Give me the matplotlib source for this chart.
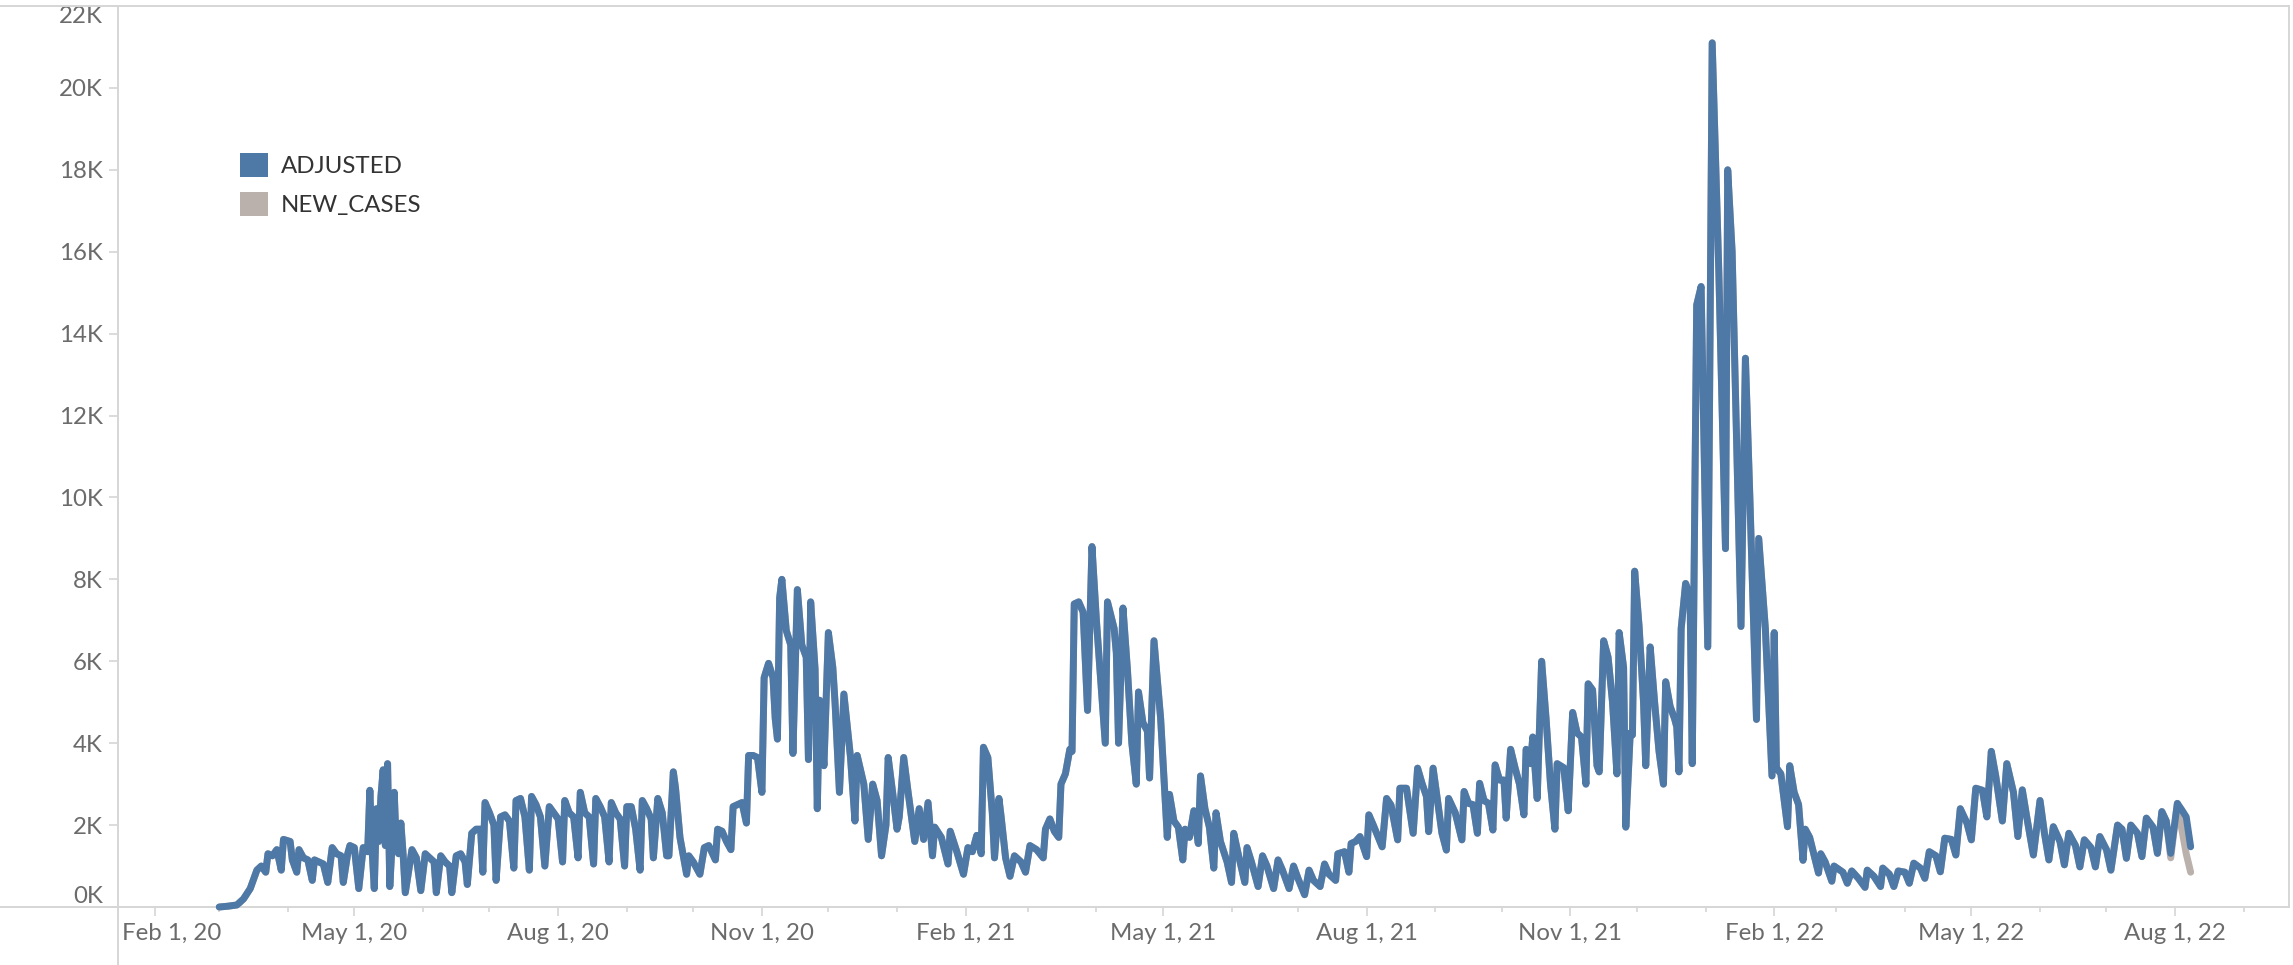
import matplotlib.pyplot as plt
import matplotlib.dates as mdates
import matplotlib.transforms as mtransforms
from matplotlib.patches import Patch
from matplotlib.lines import Line2D
import pandas as pd

# days counted from Feb 1, 2020; values in thousands of cases
start = pd.Timestamp('2020-02-01')
adj_days = [29, 33, 37, 40, 43, 46, 48, 50, 51, 53, 55, 57, 58, 61, 62, 64, 65, 67, 69, 71,
            72, 74, 76, 78, 80, 82, 84, 85, 87, 88, 90, 92, 94, 96, 97, 98, 99, 100, 101, 102,
            103, 104, 105, 106, 107, 108, 109, 110, 111, 112, 113, 116, 118, 120, 122, 124, 126, 127, 129, 131,
            133, 134, 136, 138, 140, 141, 143, 145, 147, 148, 149, 151, 153, 154, 156, 158, 160, 162, 163, 165,
            167, 169, 170, 172, 174, 176, 178, 180, 182, 184, 185, 187, 189, 191, 192, 194, 196, 198, 199, 201,
            203, 205, 206, 208, 210, 212, 213, 215, 217, 219, 220, 222, 224, 225, 227, 229, 231, 232, 234, 235,
            237, 240, 241, 243, 246, 248, 250, 253, 254, 256, 258, 260, 261, 263, 265, 267, 268, 270, 272, 274,
            275, 277, 279, 280, 281, 282, 283, 285, 287, 288, 290, 292, 294, 295, 296, 298, 299, 300, 302, 304,
            306, 307, 309, 311, 313, 314, 316, 317, 320, 322, 324, 326, 328, 330, 331, 333, 335, 336, 338, 340,
            343, 345, 347, 349, 351, 352, 355, 358, 359, 362, 365, 367, 369, 371, 373, 374, 376, 378, 379, 381,
            382, 384, 386, 388, 391, 393, 395, 398, 401, 402, 404, 406, 408, 409, 411, 413, 414, 415, 417, 419,
            421, 423, 425, 427, 429, 430, 433, 434, 435, 437, 439, 441, 443, 444, 446, 448, 449, 451, 454, 457,
            458, 460, 462, 464, 465, 467, 469, 471, 472, 474, 476, 478, 479, 481, 484, 486, 487, 489, 492, 493,
            495, 498, 500, 502, 505, 507, 509, 512, 514, 516, 519, 521, 523, 526, 528, 530, 533, 534, 537, 539,
            540, 542, 544, 547, 548, 550, 554, 556, 558, 561, 562, 565, 568, 570, 572, 574, 575, 577, 579, 581,
            583, 584, 587, 590, 591, 593, 595, 597, 598, 600, 602, 604, 605, 607, 609, 610, 612, 614, 616, 618,
            619, 621, 622, 624, 626, 628, 630, 632, 633, 636, 638, 640, 642, 644, 646, 647, 649, 651, 652, 654,
            656, 658, 660, 661, 663, 664, 666, 667, 668, 670, 672, 673, 675, 677, 679, 681, 682, 684, 686, 687,
            688, 689, 691, 693, 694, 696, 698, 701, 703, 706, 709, 710, 712, 716, 718, 720, 723, 724, 727, 730,
            731, 732, 734, 737, 738, 740, 742, 744, 745, 747, 751, 752, 754, 757, 758, 762, 764, 766, 769, 772,
            773, 776, 779, 780, 783, 785, 787, 790, 792, 794, 797, 799, 801, 804, 806, 808, 811, 813, 815, 818,
            820, 822, 825, 827, 829, 831, 834, 836, 839, 841, 843, 845, 848, 851, 853, 855, 857, 860, 862, 864,
            867, 869, 871, 874, 876, 878, 881, 883, 886, 888, 890, 892, 895, 897, 899, 902, 904, 906, 908, 910,
            913, 915, 917, 919]
adj_k = [0.0, 0.02, 0.05, 0.2, 0.45, 0.9, 1.0, 0.85, 1.3, 1.25, 1.4, 0.9, 1.65, 1.6, 1.15, 0.85, 1.4, 1.2, 1.15, 0.65,
         1.15, 1.1, 1.05, 0.6, 1.45, 1.3, 1.25, 0.6, 1.3, 1.5, 1.45, 0.45, 1.45, 1.35, 2.85, 1.4, 0.45, 2.4, 1.6, 2.7,
         3.35, 1.5, 3.5, 0.5, 1.5, 2.8, 1.4, 1.3, 2.05, 1.3, 0.35, 1.4, 1.2, 0.4, 1.3, 1.2, 1.1, 0.35, 1.25, 1.1,
         1.0, 0.35, 1.25, 1.3, 1.1, 0.55, 1.8, 1.9, 1.9, 0.85, 2.55, 2.3, 2.0, 0.65, 2.2, 2.25, 2.1, 0.95, 2.6, 2.65,
         2.2, 0.9, 2.7, 2.5, 2.2, 1.0, 2.45, 2.3, 2.15, 1.1, 2.6, 2.3, 2.2, 1.2, 2.8, 2.3, 2.2, 1.05, 2.65, 2.45,
         2.2, 1.1, 2.55, 2.3, 2.15, 1.0, 2.45, 2.45, 1.9, 0.9, 2.6, 2.4, 2.15, 1.2, 2.65, 2.3, 1.25, 1.25, 3.3, 2.9,
         1.7, 0.8, 1.25, 1.1, 0.8, 1.45, 1.5, 1.15, 1.9, 1.85, 1.6, 1.4, 2.45, 2.5, 2.55, 2.05, 3.7, 3.7, 3.65, 2.8,
         5.6, 5.95, 5.6, 4.6, 4.1, 7.55, 8.0, 6.75, 6.4, 3.75, 7.75, 6.4, 6.1, 3.6, 7.45, 5.8, 2.4, 5.05, 3.45, 6.7,
         5.85, 5.0, 2.8, 5.2, 4.15, 3.65, 2.1, 3.7, 3.0, 1.65, 3.0, 2.6, 1.25, 2.0, 3.65, 2.8, 1.9, 2.2, 3.65, 2.8,
         1.6, 2.4, 1.65, 2.55, 1.25, 1.95, 1.7, 1.05, 1.85, 1.35, 0.8, 1.45, 1.35, 1.75, 1.3, 3.9, 3.65, 2.3, 1.2, 2.65,
         2.2, 1.2, 0.75, 1.25, 1.1, 0.85, 1.5, 1.4, 1.2, 1.9, 2.15, 1.85, 1.7, 3.0, 3.25, 3.85, 3.8, 7.4, 7.45, 7.2,
         4.8, 8.8, 7.0, 5.5, 4.0, 7.45, 6.8, 6.2, 4.0, 7.3, 5.8, 4.0, 3.0, 5.25, 4.5, 4.3, 3.15, 6.5, 4.6, 1.7,
         2.75, 2.1, 1.95, 1.15, 1.9, 1.7, 2.35, 1.55, 3.2, 2.4, 1.95, 0.95, 2.3, 1.6, 1.1, 0.6, 1.8, 1.3, 0.6, 1.45,
         1.1, 0.5, 1.25, 1.0, 0.45, 1.15, 0.9, 0.45, 1.0, 0.7, 0.3, 0.9, 0.65, 0.5, 1.05, 0.8, 0.65, 1.3, 1.35, 0.85,
         1.55, 1.6, 1.72, 1.23, 2.25, 2.0, 1.47, 2.65, 2.49, 1.64, 2.9, 2.9, 1.8, 3.39, 3.02, 2.7, 1.84, 3.39, 2.6, 1.8,
         1.39, 2.65, 2.3, 1.64, 2.82, 2.53, 2.5, 1.8, 3.02, 2.6, 2.53, 1.88, 3.47, 3.1, 3.1, 2.17, 3.85, 3.4, 3.0, 2.25,
         3.85, 3.5, 4.15, 2.65, 6.0, 4.6, 3.0, 1.9, 3.5, 3.4, 2.35, 4.75, 4.25, 4.15, 3.0, 5.45, 5.3, 3.45, 3.3, 6.5,
         6.1, 5.0, 3.25, 6.7, 5.85, 1.95, 4.25, 4.2, 8.2, 6.85, 5.0, 3.45, 6.35, 5.0, 3.8, 3.0, 5.5, 4.9, 4.6, 4.4,
         3.3, 6.8, 7.9, 7.6, 3.5, 14.7, 15.15, 6.35, 21.1, 15.5, 8.75, 18.0, 16.0, 6.85, 13.4, 10.0, 4.58, 9.0, 6.8, 3.2,
         6.7, 3.4, 3.25, 1.96, 3.45, 2.8, 2.5, 1.14, 1.9, 1.7, 0.83, 1.3, 1.1, 0.63, 1.0, 0.85, 0.58, 0.88, 0.7, 0.48,
         0.9, 0.75, 0.5, 0.95, 0.8, 0.5, 0.88, 0.85, 0.58, 1.07, 0.95, 0.7, 1.35, 1.25, 0.86, 1.68, 1.65, 1.27, 2.4, 2.05,
         1.64, 2.9, 2.85, 2.2, 3.8, 3.2, 2.1, 3.5, 2.8, 1.72, 2.86, 2.2, 1.27, 2.6, 1.8, 1.15, 1.96, 1.6, 1.03, 1.8,
         1.5, 0.98, 1.64, 1.45, 0.98, 1.72, 1.4, 0.9, 2.0, 1.9, 1.19, 2.0, 1.8, 1.23, 2.17, 1.95, 1.31, 2.33, 2.1, 1.31,
         2.53, 2.37, 2.2, 1.47]

# raw NEW_CASES only differs from ADJUSTED over the last days
nc_tail_days = [910, 913, 915, 917, 919]
nc_tail_k = [1.2, 2.53, 1.9, 1.3, 0.85]

tick_dates = ['2020-02-01', '2020-05-01', '2020-08-01', '2020-11-01', '2021-02-01', '2021-05-01',
              '2021-08-01', '2021-11-01', '2022-02-01', '2022-05-01', '2022-08-01']
tick_labels = ['Feb 1, 20', 'May 1, 20', 'Aug 1, 20', 'Nov 1, 20', 'Feb 1, 21', 'May 1, 21',
               'Aug 1, 21', 'Nov 1, 21', 'Feb 1, 22', 'May 1, 22', 'Aug 1, 22']
y_ticks = list(range(0, 23, 2))

blue = '#4e79a7'
gray = '#bab0ac'
line_col = '#d6d6d6'
txt_col = '#6b6b6b'

plt.rcParams['font.family'] = ['Lato', 'DejaVu Sans']

W, H = 2293, 965
fig = plt.figure(figsize=(W / 100, H / 100), dpi=100)
ax = fig.add_axes([118 / W, 58 / H, (2289 - 118) / W, (907 - 6) / H])

adj_dates = start + pd.to_timedelta(adj_days, unit='D')
cut = sum(1 for d in adj_days if d < nc_tail_days[0])
nc_days = adj_days[:cut] + nc_tail_days
nc_k = adj_k[:cut] + nc_tail_k
nc_dates = start + pd.to_timedelta(nc_days, unit='D')

kw = dict(lw=5.0, solid_joinstyle='round', solid_capstyle='round', clip_on=False)
ax.plot(nc_dates, nc_k, color=gray, zorder=2, **kw)
ax.plot(adj_dates, adj_k, color=blue, zorder=3, **kw)

ax.set_xlim(start - pd.Timedelta(days=16.7), start + pd.Timedelta(days=963.4))
ax.set_ylim(0, 22)

ax.set_xticks(pd.to_datetime(tick_dates))
ax.set_xticklabels(tick_labels)
ax.xaxis.set_minor_locator(mdates.MonthLocator())
ax.set_yticks(y_ticks)
ax.set_yticklabels([f'{v}K' for v in y_ticks])

ax.tick_params(axis='both', which='both', color=line_col, width=1.2, labelcolor=txt_col, labelsize=17.3)
ax.tick_params(axis='x', which='major', length=6.5, pad=5)
ax.tick_params(axis='x', which='minor', length=3.5)
ax.tick_params(axis='y', which='major', length=6.5, pad=4.5)

for s in ax.spines.values():
    s.set_color(line_col)
    s.set_linewidth(1.4)

# Tableau keeps end labels inside the pane
yt = ax.yaxis.get_major_ticks()
yt[0].label1.set_va('bottom')
yt[-1].label1.set_va('top')
first = ax.xaxis.get_major_ticks()[0].label1
first.set_ha('left')
first.set_transform(first.get_transform() + mtransforms.ScaledTranslation(-0.33, 0, fig.dpi_scale_trans))

# axis lines running into the header area
for xs, ys in [([0, 118 / W], [58 / H, 58 / H]), ([118 / W, 118 / W], [0, 58 / H]),
               ([0, 118 / W], [1 - 6 / H, 1 - 6 / H])]:
    fig.add_artist(Line2D(xs, ys, transform=fig.transFigure, color=line_col, lw=1.4))

handles = [Patch(facecolor=blue, edgecolor='none', label='ADJUSTED'),
           Patch(facecolor=gray, edgecolor='none', label='NEW_CASES')]
ax.legend(handles=handles, loc='upper left', bbox_to_anchor=(240 / W, 1 - 153 / H),
          bbox_transform=fig.transFigure, frameon=False, fontsize=17.3, labelcolor='#333333',
          handlelength=1.15, handleheight=1.15, handletextpad=0.55, labelspacing=0.62,
          borderpad=0, borderaxespad=0)

fig.savefig('out.png', dpi=100)
